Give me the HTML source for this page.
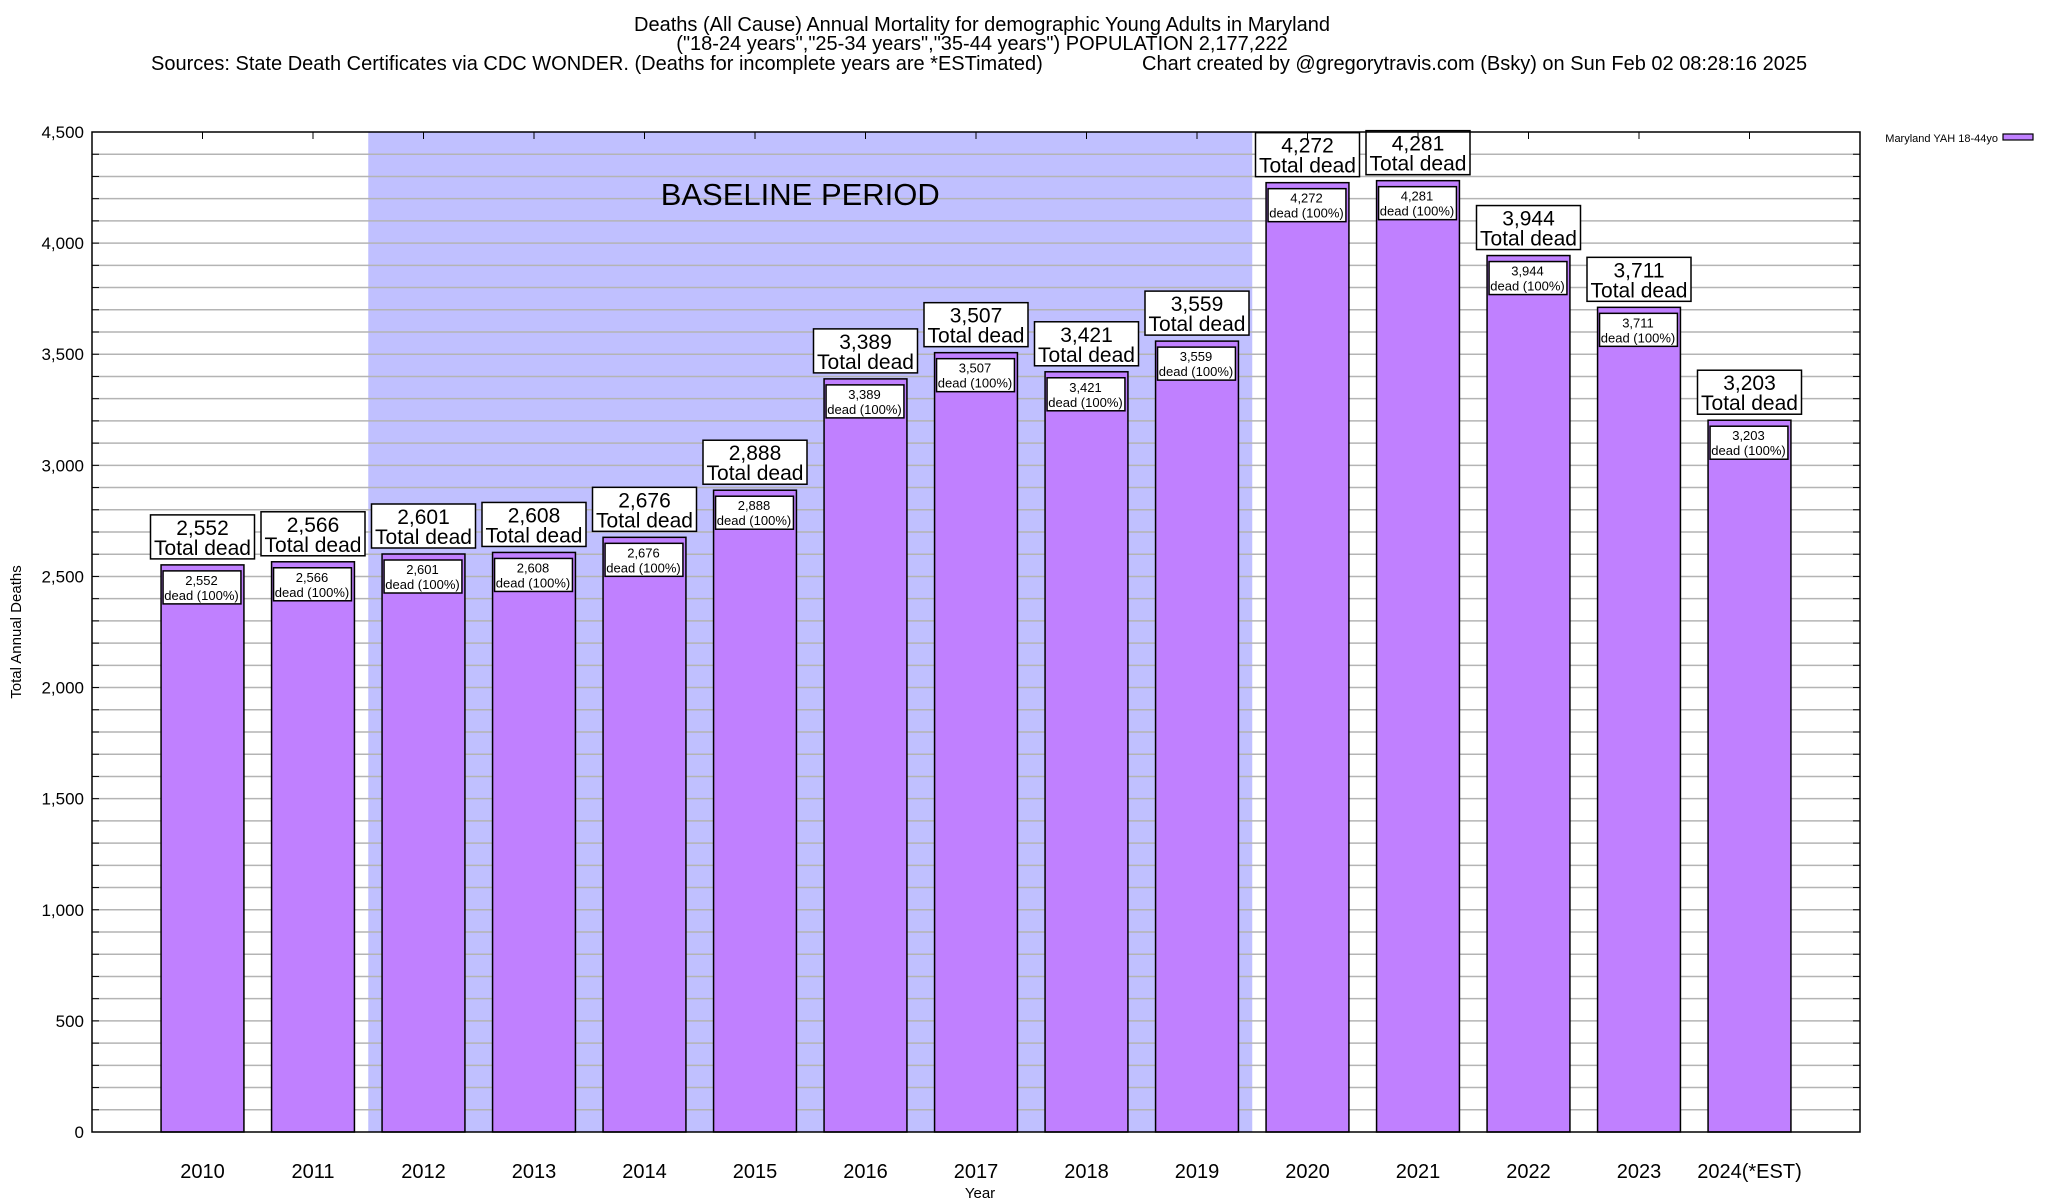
<!DOCTYPE html>
<html><head><meta charset="utf-8"><style>
body{margin:0;background:#fff}
svg{display:block;font-family:"Liberation Sans",sans-serif}
</style></head><body>
<svg id="c" width="2048" height="1200" viewBox="0 0 2048 1200">
<g font-size="20" fill="#000">
<text x="982" y="31" text-anchor="middle">Deaths (All Cause) Annual Mortality for demographic Young Adults in Maryland</text>
<text x="982" y="50" text-anchor="middle">("18-24 years","25-34 years","35-44 years") POPULATION 2,177,222</text>
<text x="151" y="70">Sources: State Death Certificates via CDC WONDER. (Deaths for incomplete years are *ESTimated)</text>
<text x="1142" y="70">Chart created by @gregorytravis.com (Bsky) on Sun Feb 02 08:28:16 2025</text>
</g>
<g id="plot"></g>
</svg>
<script>
const categories=["2010","2011","2012","2013","2014","2015","2016","2017","2018","2019","2020","2021","2022","2023","2024(*EST)"];
const deaths=[2552,2566,2601,2608,2676,2888,3389,3507,3421,3559,4272,4281,3944,3711,3203];
const yTicks=[0,500,1000,1500,2000,2500,3000,3500,4000,4500];
const baselineRange=[1.5,9.5];
const L=92,R=1860,T=132,B=1132,XMIN=-1,XMAX=15,YMAX=4500;
const NS="http://www.w3.org/2000/svg";
const g=document.getElementById('plot');
function x(v){return L+(v-XMIN)/(XMAX-XMIN)*(R-L);}
function y(v){return B-v/YMAX*(B-T);}
function fmt(n){return n.toLocaleString('en-US');}
function mk(tag,attrs,parent){const e=document.createElementNS(NS,tag);for(const k in attrs)e.setAttribute(k,attrs[k]);(parent||g).appendChild(e);return e;}
let sh=mk('rect',{x:x(baselineRange[0]),y:T,width:x(baselineRange[1])-x(baselineRange[0]),height:B-T,fill:'#c0c0ff'});


for(let v=100;v<YMAX;v+=100){
 let ln=mk('line',{x1:L,x2:R,y1:y(v),y2:y(v),stroke:'#b4b4b4','stroke-width':1.5});
 
 
 mk('line',{x1:L,x2:L+7,y1:y(v),y2:y(v),stroke:'#000','stroke-width':1});
 mk('line',{x1:R,x2:R-7,y1:y(v),y2:y(v),stroke:'#000','stroke-width':1});
}
let bt=mk('text',{x:(x(baselineRange[0])+x(baselineRange[1]))/2-10,y:205,'font-size':31,'text-anchor':'middle'});
bt.textContent='BASELINE PERIOD';


yTicks.forEach(v=>{
 let t=mk('text',{x:84,y:y(v)+6,'font-size':17,'text-anchor':'end'});
 t.textContent=fmt(v);
 
 
});
const bw=0.75;
deaths.forEach((d,i)=>{
 const x0=x(i-bw/2),x1=x(i+bw/2),yt=y(d);
 let b=mk('rect',{x:x0,y:yt,width:x1-x0,height:B-yt,fill:'#c080ff',stroke:'#000','stroke-width':1.5});
 
 
 let ib=mk('rect',{x:x0+2,y:yt+6,width:x1-x0-5,height:33,fill:'#fff',stroke:'#000','stroke-width':1.5});
 
 
 let t1=mk('text',{x:x(i)-1,y:yt+20,'font-size':13,'text-anchor':'middle'});
 t1.textContent=fmt(d);
 
 
 let t2=mk('text',{x:x(i)-1,y:yt+35,'font-size':13,'text-anchor':'middle'});
 t2.textContent='dead (100%)';
 
 
 const bx=x(i)-52,by=yt-50;
 let ob=mk('rect',{x:bx,y:by,width:104,height:44,fill:'#fff',stroke:'#000','stroke-width':1.5});
 
 
 let t3=mk('text',{x:x(i),y:by+20,'font-size':21,'text-anchor':'middle'});
 t3.textContent=fmt(d);
 
 
 let t4=mk('text',{x:x(i),y:by+40,'font-size':21,'text-anchor':'middle'});
 t4.textContent='Total dead';
 
 
 let xl=mk('text',{x:x(i),y:1178,'font-size':20,'text-anchor':'middle'});
 xl.textContent=categories[i];
 
 
 mk('line',{x1:x(i),x2:x(i),y1:T,y2:T+7,stroke:'#000','stroke-width':1});
});
let fr=mk('rect',{x:L,y:T,width:R-L,height:B-T,fill:'none',stroke:'#000','stroke-width':1.5});


let xt=mk('text',{x:980,y:1198,'font-size':15,'text-anchor':'middle'});
xt.textContent='Year';


let yt=mk('text',{x:0,y:0,'font-size':15,'text-anchor':'middle',transform:'translate(21,632) rotate(-90)'});
yt.textContent='Total Annual Deaths';


let lg=mk('text',{x:1998,y:142,'font-size':11,'text-anchor':'end'});
lg.textContent='Maryland YAH 18-44yo';


let lb=mk('rect',{x:2003,y:134,width:30,height:6,fill:'#c080ff',stroke:'#000','stroke-width':1.2});


</script>
</body></html>
